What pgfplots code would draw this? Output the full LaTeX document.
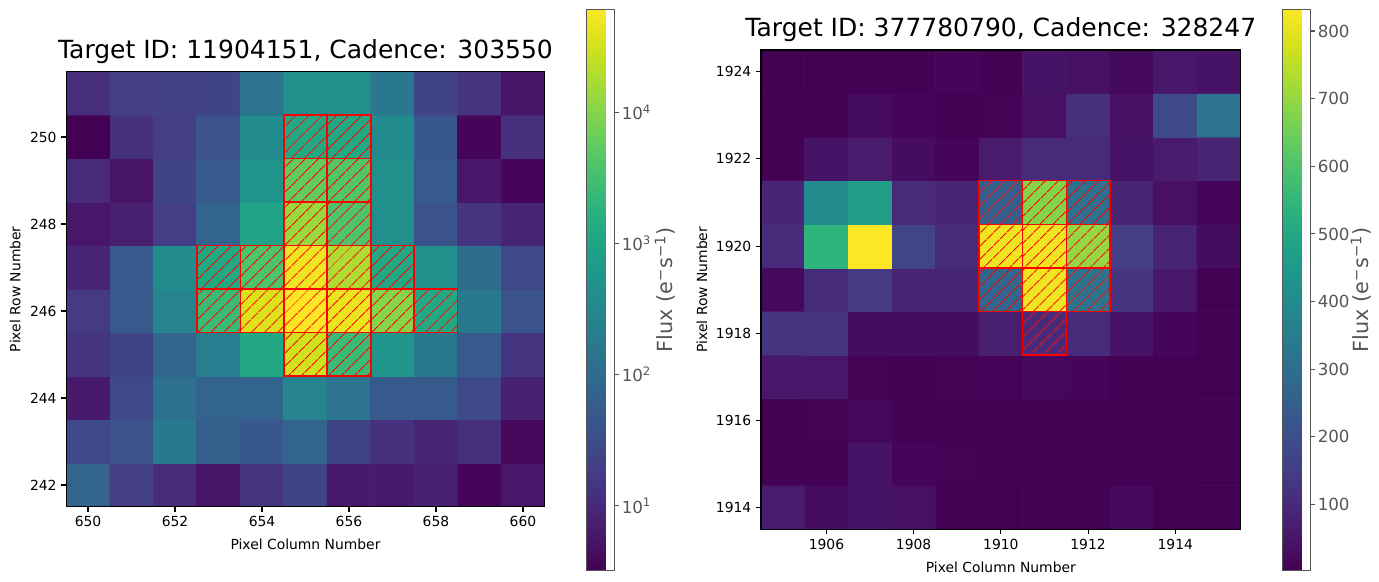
\documentclass[border=0pt]{standalone}
\usepackage{fontspec}
\setmainfont{DejaVu Sans}
\usepackage{pgfplots}
\pgfplotsset{compat=1.18}
\usepackage{pgfplotstable}
\usetikzlibrary{patterns.meta}
\definecolor{cbgray}{HTML}{555555}
\pgfkeys{/pgf/number format/.cd,1000 sep={}}

% Left target: flux per pixel, rows from 242 (bottom) to 251 (top), columns 650..660
\pgfplotstableread[row sep=\\]{
f\\
75\\ 19\\ 10.5\\ 5.3\\ 14.1\\ 23\\ 6.4\\ 6.4\\ 7.8\\ 3.6\\ 5.8\\
28\\ 38\\ 166\\ 62\\ 46\\ 75\\ 23\\ 12.8\\ 8.6\\ 11.6\\ 3.9\\
6.4\\ 28\\ 123\\ 75\\ 75\\ 271\\ 136\\ 51\\ 51\\ 28\\ 7.8\\
14.1\\ 23\\ 75\\ 202\\ 1186\\ 30500\\ 2606\\ 540\\ 166\\ 51\\ 14.1\\
17.2\\ 51\\ 271\\ 2606\\ 37200\\ 60800\\ 45300\\ 10350\\ 1186\\ 166\\ 38\\
8.6\\ 51\\ 364\\ 1186\\ 3865\\ 50000\\ 18700\\ 1186\\ 444\\ 101\\ 28\\
5.8\\ 7.1\\ 19\\ 75\\ 973\\ 13900\\ 3865\\ 444\\ 38\\ 14.1\\ 8.6\\
10.5\\ 5.3\\ 23\\ 51\\ 540\\ 5730\\ 4300\\ 444\\ 51\\ 5.8\\ 3.6\\
3.2\\ 12.8\\ 19\\ 38\\ 364\\ 1186\\ 1186\\ 364\\ 46\\ 3.6\\ 12.8\\
11.6\\ 19\\ 21\\ 23\\ 136\\ 444\\ 444\\ 166\\ 23\\ 14.1\\ 5.3\\
}\leftdata

% Right target: flux per pixel, rows from 1914 (bottom) to 1924 (top), columns 1905..1915
\pgfplotstableread[row sep=\\]{
f\\
61\\ 28\\ 44\\ 36\\ 5\\ 4\\ 4\\ 5\\ 20\\ 4\\ 3\\
4\\ 4\\ 44\\ 12\\ 6\\ 4\\ 4\\ 4\\ 4\\ 3\\ 4\\
5\\ 6\\ 20\\ 5\\ 4\\ 5\\ 4\\ 4\\ 3\\ 4\\ 3\\
53\\ 53\\ 6\\ 5\\ 6\\ 7\\ 20\\ 12\\ 4\\ 4\\ 3\\
127\\ 127\\ 28\\ 28\\ 28\\ 69\\ 102\\ 102\\ 44\\ 12\\ 4\\
20\\ 102\\ 144\\ 86\\ 86\\ 277\\ 815\\ 318\\ 127\\ 53\\ 5\\
102\\ 542\\ 832\\ 169\\ 102\\ 815\\ 815\\ 700\\ 152\\ 86\\ 28\\
86\\ 401\\ 459\\ 102\\ 86\\ 252\\ 680\\ 310\\ 86\\ 36\\ 12\\
4\\ 44\\ 61\\ 28\\ 12\\ 61\\ 102\\ 102\\ 44\\ 61\\ 86\\
4\\ 5\\ 28\\ 12\\ 5\\ 6\\ 36\\ 111\\ 36\\ 185\\ 318\\
4\\ 4\\ 4\\ 5\\ 12\\ 5\\ 44\\ 36\\ 20\\ 53\\ 44\\
}\rightdata

\pgfplotsset{
  tpf/.style={
    scale only axis, anchor=south west, axis on top,
    axis line style={line width=0.8bp},
    tick style={line width=0.8bp, black},
    tick align=outside, major tick length=3.5bp,
    xtick pos=left, ytick pos=left,
    /pgf/number format/assume math mode=true,
    tick label style={font=\fontsize{10bp}{12bp}\selectfont},
    label style={font=\fontsize{10bp}{12bp}\selectfont},
    title style={at={(axis description cs:0.5,1)}, anchor=base, yshift=0.05in,
      font=\fontsize{18bp}{22bp}\selectfont},
    xlabel={Pixel Column Number}, ylabel={Pixel Row Number},
    xlabel style={at={(axis description cs:0.5,0)}, anchor=center, yshift=-0.378in},
    colormap/viridis, colorbar,
  },
  cbar/.style={
    anchor=north west, scale only axis,
    width=0.284in, height=5.61in,
    axis line style={draw=cbgray, line width=0.8bp},
    ytick style={draw=cbgray, line width=0.8bp},
    tick align=outside, major tick length=3.5bp, ytick pos=right,
    /pgf/number format/assume math mode=true,
    yticklabel style={text=cbgray, font=\fontsize{12bp}{14bp}\selectfont, xshift=-0.025in},
    ylabel={Flux (e\textsuperscript{−}s\textsuperscript{−1})},
    ylabel style={text=cbgray, font=\fontsize{15bp}{18bp}\selectfont, anchor=center},
  },
  maskcell/.style={draw=red, line width=1.1bp, forget plot, mark=none,
    pattern={Lines[angle=45, distance=6.8bp, line width=0.85bp]}, pattern color=red},
}
\newcommand{\cell}[4]{\addplot[maskcell] coordinates {(#1,#3) (#2,#3) (#2,#4) (#1,#4)} -- cycle;}

\begin{document}
\begin{tikzpicture}
\path[use as bounding box] (0,0) rectangle (13.79in,5.82in);

\begin{axis}[tpf,
  at={(0.663in,0.753in)}, width=4.784in, height=4.35in,
  xmin=649.5, xmax=660.5, ymin=241.5, ymax=251.5,
  xtick={650,652,...,660}, ytick={242,244,...,250},
  title={Target ID: 11904151, Cadence: 303550},
  ylabel style={at={(axis description cs:-0.107,0.5)}, anchor=center},
  point meta min=0.509, point meta max=4.784,
  colorbar style={cbar,
    at={(parent axis.north east)}, xshift=0.296in, yshift=0.624in,
    ytick={1,2,3,4},
    yticklabels={10\textsuperscript{1},10\textsuperscript{2},10\textsuperscript{3},10\textsuperscript{4}},
    ylabel style={at={(axis description cs:2.78,0.5)}},
  },
]
\addplot[matrix plot*, mesh/cols=11, point meta={ln(\thisrow{f})/ln(10)}]
  table[x index=0, y index=0, x expr={650+mod(\coordindex,11)}, y expr={242+floor(\coordindex/11)}] {\leftdata};
\cell{654.5}{655.5}{249.5}{250.5}
\cell{655.5}{656.5}{249.5}{250.5}
\cell{654.5}{655.5}{248.5}{249.5}
\cell{655.5}{656.5}{248.5}{249.5}
\cell{654.5}{655.5}{247.5}{248.5}
\cell{655.5}{656.5}{247.5}{248.5}
\cell{652.5}{653.5}{246.5}{247.5}
\cell{653.5}{654.5}{246.5}{247.5}
\cell{654.5}{655.5}{246.5}{247.5}
\cell{655.5}{656.5}{246.5}{247.5}
\cell{656.5}{657.5}{246.5}{247.5}
\cell{652.5}{653.5}{245.5}{246.5}
\cell{653.5}{654.5}{245.5}{246.5}
\cell{654.5}{655.5}{245.5}{246.5}
\cell{655.5}{656.5}{245.5}{246.5}
\cell{656.5}{657.5}{245.5}{246.5}
\cell{657.5}{658.5}{245.5}{246.5}
\cell{654.5}{655.5}{244.5}{245.5}
\cell{655.5}{656.5}{244.5}{245.5}
\end{axis}

\begin{axis}[tpf,
  at={(7.61in,0.527in)}, width=4.797in, height=4.793in,
  xmin=1904.5, xmax=1915.5, ymin=1913.5, ymax=1924.5,
  xtick={1906,1908,...,1914}, ytick={1914,1916,...,1924},
  title={Target ID: 377780790, Cadence: 328247},
  ylabel style={at={(axis description cs:-0.123,0.5)}, anchor=center},
  point meta min=2.9, point meta max=832,
  colorbar style={cbar,
    at={(parent axis.north east)}, xshift=0.296in, yshift=0.407in,
    ytick={100,200,...,800},
    ylabel style={at={(axis description cs:2.78,0.5)}},
  },
]
\addplot[matrix plot*, mesh/cols=11, point meta=\thisrow{f}]
  table[x index=0, y index=0, x expr={1905+mod(\coordindex,11)}, y expr={1914+floor(\coordindex/11)}] {\rightdata};
\cell{1909.5}{1910.5}{1920.5}{1921.5}
\cell{1910.5}{1911.5}{1920.5}{1921.5}
\cell{1911.5}{1912.5}{1920.5}{1921.5}
\cell{1909.5}{1910.5}{1919.5}{1920.5}
\cell{1910.5}{1911.5}{1919.5}{1920.5}
\cell{1911.5}{1912.5}{1919.5}{1920.5}
\cell{1909.5}{1910.5}{1918.5}{1919.5}
\cell{1910.5}{1911.5}{1918.5}{1919.5}
\cell{1911.5}{1912.5}{1918.5}{1919.5}
\cell{1910.5}{1911.5}{1917.5}{1918.5}
\end{axis}
\end{tikzpicture}
\end{document}
